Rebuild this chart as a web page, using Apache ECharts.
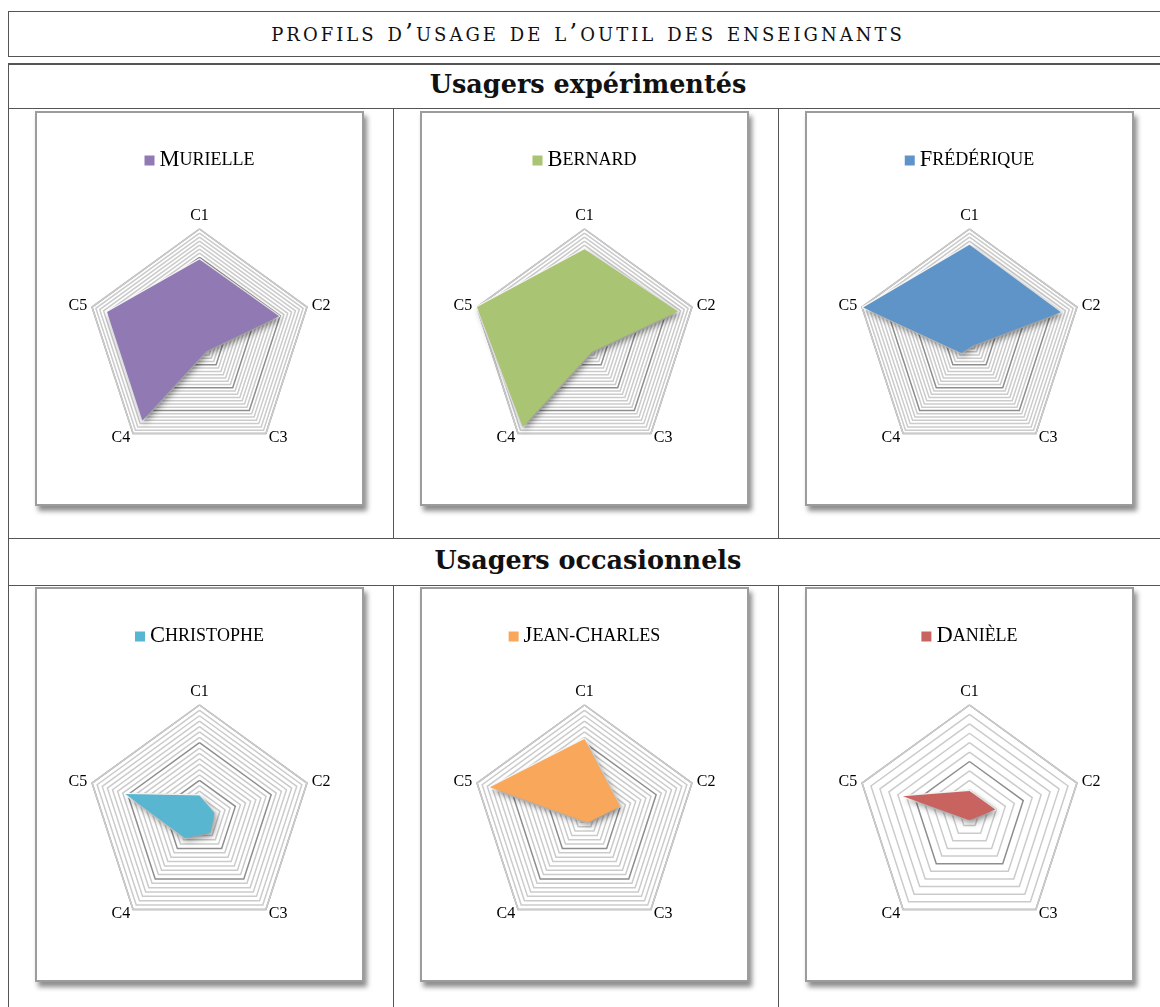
<!DOCTYPE html>
<html>
<head>
<meta charset="utf-8">
<script src="https://cdn.jsdelivr.net/npm/echarts@6/dist/echarts.min.js"></script>
<style>
  body { margin: 0; background: #fff; width: 1160px; height: 1007px; overflow: hidden; position: relative; }
  .line { position: absolute; background: #555; }
  .txt { position: absolute; left: 8px; width: 1160px; text-align: center; color: #111; }
  .title { font-family: 'DejaVu Serif', serif; font-variant: small-caps; font-size: 25px; letter-spacing: 3px; }
  .section { font-family: 'DejaVu Serif', serif; font-weight: bold; font-size: 25.5px; }
  .panel { position: absolute; width: 325px; height: 391px; border: 2px solid #9c9c9c; background: #fff;
           box-shadow: 3px 5px 5px rgba(0,0,0,0.45); }
</style>
</head>
<body>
<!-- title box -->
<div class="line" style="left:8px;top:11px;width:1160px;height:1px"></div>
<div class="line" style="left:8px;top:56px;width:1160px;height:1px"></div>
<div class="line" style="left:8px;top:11px;width:1px;height:46px"></div>
<div class="txt title" style="top:18px">profils d’usage de l’outil des enseignants</div>

<!-- table -->
<div class="line" style="left:8px;top:63px;width:1160px;height:2px"></div>
<div class="line" style="left:8px;top:108px;width:1160px;height:1px"></div>
<div class="line" style="left:8px;top:538px;width:1160px;height:1px"></div>
<div class="line" style="left:8px;top:585px;width:1160px;height:1px"></div>
<div class="line" style="left:8px;top:63px;width:1px;height:944px"></div>
<div class="line" style="left:393px;top:108px;width:1px;height:430px"></div>
<div class="line" style="left:778px;top:108px;width:1px;height:430px"></div>
<div class="line" style="left:393px;top:585px;width:1px;height:422px"></div>
<div class="line" style="left:778px;top:585px;width:1px;height:422px"></div>
<div class="txt section" style="top:69px">Usagers expérimentés</div>
<div class="txt section" style="top:545px">Usagers occasionnels</div>

<div class="panel" id="p0" style="left:35px;top:111px"></div>
<div class="panel" id="p1" style="left:420px;top:111px"></div>
<div class="panel" id="p2" style="left:805px;top:111px"></div>
<div class="panel" id="p3" style="left:35px;top:587px"></div>
<div class="panel" id="p4" style="left:420px;top:587px"></div>
<div class="panel" id="p5" style="left:805px;top:587px"></div>

<script>
// axes (C1 at top, then clockwise)
var criteres = ['C1', 'C2', 'C3', 'C4', 'C5'];

// one profile per teacher, values in % of the axis max (C1..C5)
var murielle    = [73, 74, 10, 86, 86];
var bernard     = [82, 87, 11, 93, 100];
var frederique  = [86, 85, 4, 12, 99];
var christophe  = [20, 14, 16, 22, 69];
var jeanCharles = [70, 33, 5, 3, 88];
var daniele     = [24, 24, 2, 2, 62];

var noms     = ['Murielle', 'Bernard', 'Frédérique', 'Christophe', 'Jean-Charles', 'Danièle'];
var couleurs = ['#9179b3', '#a9c472', '#5f94c9', '#58b6d1', '#f9a75a', '#c9635f'];
var valeurs  = [murielle, bernard, frederique, christophe, jeanCharles, daniele];
// number of grid rings and how often a darker ring comes
var anneaux  = [28, 28, 28, 21, 21, 12];
var majeurs  = [7, 7, 7, 7, 7, 6];

function petitesCaps(nom) {
  // capitals stay big, lower case letters become small capitals
  var s = '';
  for (var i = 0; i < nom.length; i++) {
    var c = nom.charAt(i);
    var grand = c !== c.toLowerCase();
    s += (grand ? '{a|' : '{b|') + c.toUpperCase() + '}';
  }
  return s;
}

for (var k = 0; k < 6; k++) {
  var chart = echarts.init(document.getElementById('p' + k));

  // echarts puts indicators counter-clockwise, reference goes clockwise
  var ordre = [0, 4, 3, 2, 1];
  var indic = ordre.map(function (i) { return { name: criteres[i], max: 100 }; });
  var vals = ordre.map(function (i) { return valeurs[k][i]; });

  var cols = [];
  for (var j = 0; j < majeurs[k]; j++) cols.push(j === 0 ? '#8e8e8e' : '#cbcbcb');

  chart.setOption({
    animation: false,
    legend: {
      top: 31,
      left: 'center',
      icon: 'rect',
      itemWidth: 10,
      itemHeight: 10,
      itemGap: 5,
      data: [noms[k]],
      formatter: petitesCaps,
      textStyle: {
        color: '#000',
        fontFamily: 'Liberation Serif',
        rich: {
          a: { fontSize: 22.5, fontFamily: 'Liberation Serif', color: '#000' },
          b: { fontSize: 18, fontFamily: 'Liberation Serif', color: '#000' }
        }
      }
    },
    radar: {
      center: ['50%', 229],
      radius: 113,
      startAngle: 90,
      shape: 'polygon',
      splitNumber: anneaux[k],
      indicator: indic,
      axisName: { color: '#000', fontFamily: 'Liberation Serif', fontSize: 16 },
      nameGap: 5,
      axisLine: { show: false },
      axisTick: { show: false },
      axisLabel: { show: false },
      splitArea: { show: false },
      splitLine: {
        lineStyle: {
          color: cols,
          width: 1.5
        }
      }
    },
    series: [{
      type: 'radar',
      symbol: 'none',
      data: [{
        name: noms[k],
        value: vals,
        itemStyle: { color: couleurs[k] },
        lineStyle: { color: '#fff', width: 2.5 },
        areaStyle: {
          color: couleurs[k],
          opacity: 1,
          shadowColor: 'rgba(0,0,0,0.45)',
          shadowBlur: 6,
          shadowOffsetX: 2,
          shadowOffsetY: 3
        }
      }]
    }]
  });
}
</script>
</body>
</html>
